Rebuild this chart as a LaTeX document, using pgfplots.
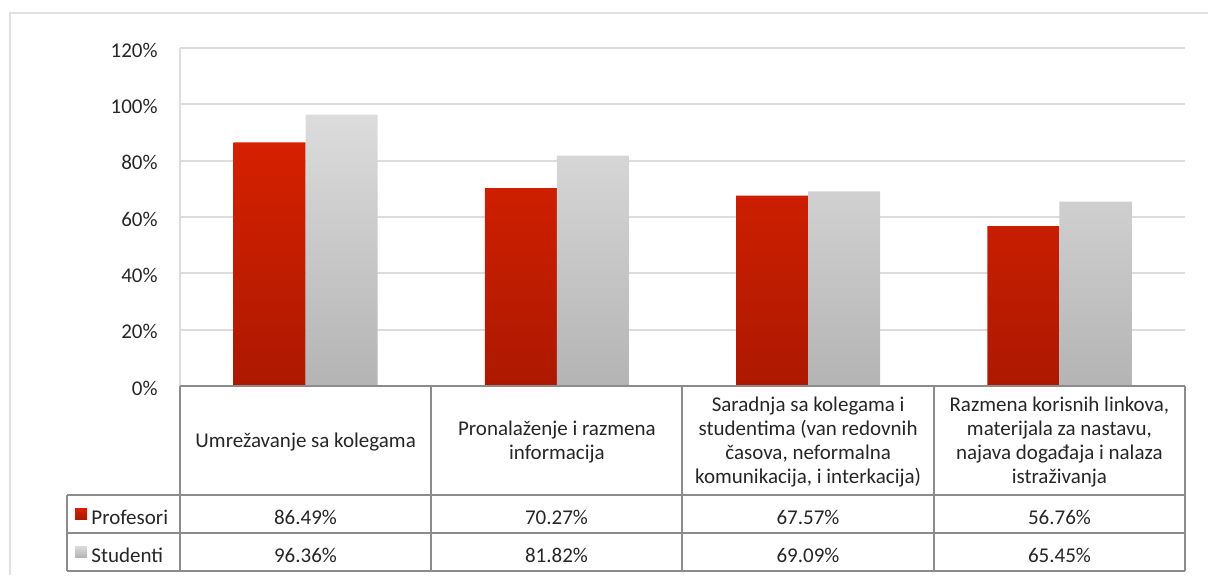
\documentclass[border=0pt]{standalone}
\usepackage{pgfplots}
\usepackage{pgfplotstable}
\pgfplotsset{compat=1.18}
\usepackage{fontspec}
\setmainfont{Carlito}
\definecolor{redtop}{RGB}{214,32,0}
\definecolor{redbot}{RGB}{172,25,0}
\definecolor{greytop}{RGB}{220,220,220}
\definecolor{greybot}{RGB}{180,180,180}
\definecolor{gridc}{RGB}{220,220,220}
\definecolor{framec}{RGB}{225,225,225}
\definecolor{tablec}{RGB}{140,140,140}
\definecolor{txt}{RGB}{38,38,38}

\pgfplotstableread{
x prof stud
0 86.49 96.36
1 70.27 81.82
2 67.57 69.09
3 56.76 65.45
}\data

\begin{document}
\fontsize{10.5}{12.15}\selectfont
\begin{tikzpicture}[font=\fontsize{10.5}{12.15}\selectfont, text=txt]
\path[use as bounding box] (0,0) rectangle (604pt,287.5pt);
\begin{axis}[
  at={(90pt,94.5pt)}, anchor=south west,
  width=502.5pt, height=169pt, scale only axis,
  ybar=0pt, bar width=36pt,
  xmin=-0.5, xmax=3.5, ymin=0, ymax=120,
  ytick={0,20,...,120},
  yticklabel={\pgfmathprintnumber[assume math mode=true]{\tick}\%},
  yticklabel style={inner sep=0pt, xshift=-11pt, yshift=-1pt, text=txt},
  xtick={0,1,2,3},
  xticklabels={
    {Umrežavanje sa kolegama},
    {Pronalaženje i razmena\\informacija},
    {Saradnja sa kolegama i\\studentima (van redovnih\\časova, neformalna\\komunikacija, i interkacija)},
    {Razmena korisnih linkova,\\materijala za nastavu,\\najava događaja i nalaza\\istraživanja}},
  xticklabel style={align=center, anchor=center, yshift=-28pt, inner sep=0pt, text=txt},
  major tick length=0pt,
  ymajorgrids, grid style={gridc, line width=1pt},
  axis line style={draw=none},
  clip=false,
]
\draw[gridc, line width=1pt] (rel axis cs:0,0) -- (rel axis cs:0,1);
\addplot[draw=none, top color=redtop, bottom color=redbot] table[x=x,y=prof]{\data};
\addplot[draw=none, top color=greytop, bottom color=greybot] table[x=x,y=stud]{\data};
\end{axis}
\begin{scope}[x=0.5pt, y=-0.5pt, shift={(0pt,287.5pt)}]
  % outer frame
  \draw[framec, line width=1pt] (10,575) -- (10,13) -- (1208,13);
  % table
  \begin{scope}[tablec, line width=1pt]
    \draw (180,386) -- (1185,386);
    \draw (67,495) -- (1185,495);
    \draw (67,533) -- (1185,533);
    \draw (67,571) -- (1185,571);
    \draw (67,495) -- (67,571);
    \foreach \xx in {180,431,682,934,1185} \draw (\xx,386) -- (\xx,571);
  \end{scope}
  % legend keys
  \shade[top color=redtop, bottom color=redbot] (75,508) rectangle (87,519);
  \shade[top color=greytop, bottom color=greybot] (75,546) rectangle (87,557);
  \node[anchor=base west, inner sep=0pt] at (91,524) {Profesori};
  \node[anchor=base west, inner sep=0pt] at (91,562) {Studenti};
  % values
  \node[anchor=base, inner sep=0pt] at (305.5,524) {86.49\%};
  \node[anchor=base, inner sep=0pt] at (556.5,524) {70.27\%};
  \node[anchor=base, inner sep=0pt] at (808,524) {67.57\%};
  \node[anchor=base, inner sep=0pt] at (1059.5,524) {56.76\%};
  \node[anchor=base, inner sep=0pt] at (305.5,562) {96.36\%};
  \node[anchor=base, inner sep=0pt] at (556.5,562) {81.82\%};
  \node[anchor=base, inner sep=0pt] at (808,562) {69.09\%};
  \node[anchor=base, inner sep=0pt] at (1059.5,562) {65.45\%};
\end{scope}
\end{tikzpicture}
\end{document}
